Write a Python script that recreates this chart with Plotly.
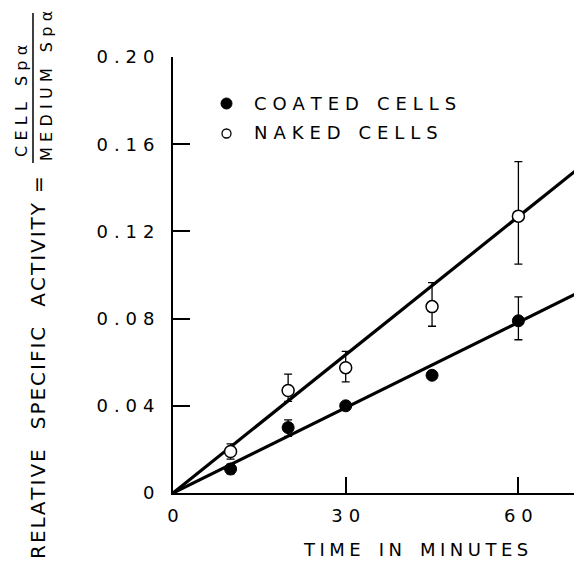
import plotly.graph_objects as go

# ---- data ----
time_min = [10, 20, 30, 45, 60]
coated = [0.011, 0.030, 0.040, 0.054, 0.079]
coated_err_plus = [0.0022, 0.0035, 0.001, 0.001, 0.011]
coated_err_minus = [0.0022, 0.004, 0.001, 0.001, 0.0087]
naked = [0.019, 0.047, 0.0575, 0.0855, 0.127]
naked_err_plus = [0.0035, 0.0075, 0.0075, 0.011, 0.025]
naked_err_minus = [0.0035, 0.005, 0.0065, 0.009, 0.022]

fit_time = [0, 70.5]
coated_fit = [0, 0.092]
naked_fit = [0, 0.149]

y_tick_vals = [0, 0.04, 0.08, 0.12, 0.16, 0.20]
y_tick_text = ["0", "0.04", "0.08", "0.12", "0.16", "0.20"]
x_tick_vals = [0, 30, 60]
x_tick_text = ["0", "30", "60"]

FONT = "DejaVu Sans"
OFF = 8  # page body margin
W, H = 582 - OFF, 564 - OFF
L, R, T, B = 173 - OFF, 2, 57 - OFF, 71
pw, ph = W - L - R, H - T - B


def px(xp):  # page pixel -> paper x
    return (xp - 173) / pw


def py(yp):  # page pixel -> paper y
    return (493 - yp) / ph


def spaced(s, sep="\u2004", word="\u2003"):
    return word.join(sep.join(list(w)) for w in s.split(" "))


fig = go.Figure()

fig.add_trace(go.Scatter(x=fit_time, y=naked_fit, mode="lines",
                         line=dict(color="black", width=3.2), showlegend=False))
fig.add_trace(go.Scatter(x=fit_time, y=coated_fit, mode="lines",
                         line=dict(color="black", width=3.2), showlegend=False))

fig.add_trace(go.Scatter(
    x=time_min, y=coated, mode="markers", name="COATED CELLS",
    marker=dict(symbol="circle", size=12, color="black", line=dict(color="black", width=1)),
    error_y=dict(type="data", array=coated_err_plus, arrayminus=coated_err_minus,
                 color="black", thickness=1.3, width=4),
    showlegend=False))
fig.add_trace(go.Scatter(
    x=time_min, y=naked, mode="markers", name="NAKED CELLS",
    marker=dict(symbol="circle", size=12, color="white", line=dict(color="black", width=1.5)),
    error_y=dict(type="data", array=naked_err_plus, arrayminus=naked_err_minus,
                 color="black", thickness=1.3, width=4),
    showlegend=False))

# invisible trace carrying the label axis
fig.add_trace(go.Scatter(x=[0], y=[0], yaxis="y2", mode="markers",
                         marker=dict(opacity=0), showlegend=False, hoverinfo="skip"))

fig.update_layout(
    width=W, height=H,
    margin=dict(l=L, r=R, t=T, b=B),
    paper_bgcolor="white", plot_bgcolor="white",
    font=dict(family=FONT, color="black", size=18),
    xaxis=dict(range=[0, 70.7], tickvals=x_tick_vals,
               ticktext=[spaced(t) for t in x_tick_text],
               ticks="inside", ticklen=16, tickwidth=1.5, tickcolor="black",
               ticklabelstandoff=6,
               showline=True, linecolor="black", linewidth=1.6,
               showgrid=False, zeroline=False, tickfont=dict(size=18, family=FONT)),
    yaxis=dict(range=[0, 0.20], tickvals=[0.04, 0.08, 0.12, 0.16],
               showticklabels=False,
               ticks="inside", ticklen=17, tickwidth=1.5, tickcolor="black",
               showline=True, linecolor="black", linewidth=1.6,
               showgrid=False, zeroline=False),
    yaxis2=dict(range=[0, 0.20], overlaying="y", side="left",
                tickvals=y_tick_vals, ticktext=[spaced(t) for t in y_tick_text],
                ticks="outside", ticklen=14, tickcolor="rgba(0,0,0,0)",
                showline=False, showgrid=False, zeroline=False,
                tickfont=dict(size=18, family=FONT)),
)

ann = []
# legend
fig.add_shape(type="circle", xref="paper", yref="paper",
              x0=px(221), x1=px(232), y0=py(109), y1=py(98),
              fillcolor="black", line=dict(color="black", width=1))
fig.add_shape(type="circle", xref="paper", yref="paper",
              x0=px(222), x1=px(231), y0=py(138), y1=py(129),
              fillcolor="white", line=dict(color="black", width=1.3))
ann.append(dict(x=px(252), y=py(103), xref="paper", yref="paper", xanchor="left",
                yanchor="middle", text=spaced("COATED CELLS"), showarrow=False,
                font=dict(size=18, family=FONT)))
ann.append(dict(x=px(252), y=py(133), xref="paper", yref="paper", xanchor="left",
                yanchor="middle", text=spaced("NAKED CELLS"), showarrow=False,
                font=dict(size=18, family=FONT)))
# x title
ann.append(dict(x=px(415), y=py(549), xref="paper", yref="paper", xanchor="center",
                yanchor="middle", text=spaced("TIME IN MINUTES", "\u2005"), showarrow=False,
                font=dict(size=18, family=FONT)))
# y title
ann.append(dict(x=px(38), y=py(368), xref="paper", yref="paper", xanchor="center",
                yanchor="middle",
                text=spaced("RELATIVE SPECIFIC ACTIVITY", "\u200a", "\u2003") + "\u2002=",
                textangle=-90, showarrow=False, font=dict(size=20, family=FONT)))
# fraction
ann.append(dict(x=px(22), y=py(101), xref="paper", yref="paper", xanchor="center",
                yanchor="middle", text=spaced("CELL Spα", "\u2004", "\u2003"), textangle=-90,
                showarrow=False, font=dict(size=16, family=FONT)))
ann.append(dict(x=px(46), y=py(86), xref="paper", yref="paper", xanchor="center",
                yanchor="middle", text=spaced("MEDIUM Spα", "\u2004", "\u2003"), textangle=-90,
                showarrow=False, font=dict(size=16, family=FONT)))
fig.add_shape(type="line", xref="paper", yref="paper",
              x0=px(33), x1=px(33), y0=py(13), y1=py(163),
              line=dict(color="black", width=1.5))
fig.update_layout(annotations=ann)

fig.write_html("out.html")
